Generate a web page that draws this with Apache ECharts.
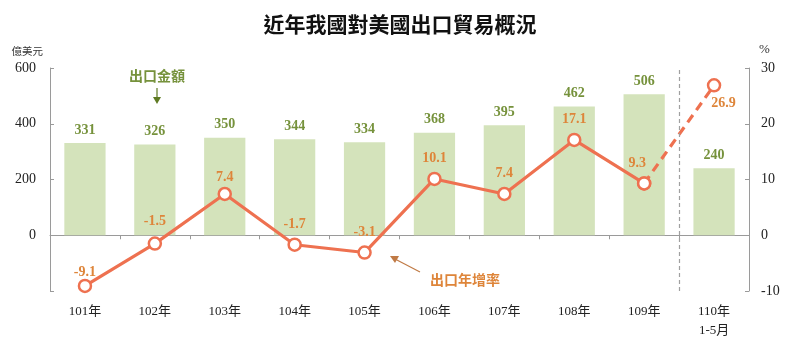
<!DOCTYPE html>
<html>
<head>
<meta charset="utf-8">
<script src="https://cdn.jsdelivr.net/npm/echarts@6/dist/echarts.min.js"></script>
<style>
  html, body { margin: 0; padding: 0; background: #fff; }
  #chart { width: 800px; height: 340px; }
</style>
</head>
<body>
<div id="chart"></div>
<script>
// Taiwan exports to the US: yearly export value (100M USD) and year-on-year growth (%)
const categories = ['101年', '102年', '103年', '104年', '105年', '106年', '107年', '108年', '109年', '110年\n1-5月'];
const exportValue = [331, 326, 350, 344, 334, 368, 395, 462, 506, 240];
const growthRate = [-9.1, -1.5, 7.4, -1.7, -3.1, 10.1, 7.4, 17.1, 9.3, 26.9];
const leftTicks = { min: -200, max: 600, interval: 200 };
const rightTicks = { min: -10, max: 30, interval: 10 };

const serif = '"Liberation Serif", "Noto Sans CJK TC", serif';
const cjk = '"Noto Sans CJK TC", sans-serif';
const axisGray = '#9a9a9a';
const barColor = '#d4e3bb';
const barLabelColor = '#76923c';
const lineColor = '#ee7150';
const lineLabelColor = '#de853a';

// Full-year growth is drawn solid; the partial-year segment is dashed
const last = growthRate.length - 1;
const solidGrowth = growthRate.map((v, i) => (i < last ? v : '-'));
const dashedGrowth = growthRate.map((v, i) => (i >= last - 1 ? v : '-'));

// small per-point nudges for the growth labels
const growthLabelDy = { 0: 7, 1: -2, 2: 4 };

const chart = echarts.init(document.getElementById('chart'));
chart.setOption({
  animation: false,
  title: {
    text: '近年我國對美國出口貿易概況',
    left: 'center',
    top: 9,
    textStyle: { fontFamily: cjk, fontSize: 21, fontWeight: 'bold', color: '#111' }
  },
  grid: { left: 50, right: 51, top: 68, bottom: 47 },
  xAxis: [
    {
      // zero baseline with boundary ticks
      type: 'category',
      data: categories,
      axisLine: { show: true, onZero: true, onZeroAxisIndex: 0, lineStyle: { color: axisGray } },
      axisTick: { show: true, length: 4, lineStyle: { color: axisGray } },
      axisLabel: { show: false }
    },
    {
      // category labels along the bottom
      type: 'category',
      data: categories,
      position: 'bottom',
      axisLine: { show: false, onZero: false },
      axisTick: { show: false },
      axisLabel: { fontFamily: serif, fontSize: 13, color: '#222', margin: 11, lineHeight: 19 }
    },
    { type: 'value', min: 0, max: 10, show: false }
  ],
  yAxis: [
    {
      type: 'value',
      name: '億美元',
      nameGap: 12,
      nameTextStyle: { fontFamily: cjk, fontSize: 10.5, color: '#333', align: 'right', padding: [0, 7, 0, 0] },
      min: leftTicks.min, max: leftTicks.max, interval: leftTicks.interval,
      axisLine: { show: true, lineStyle: { color: axisGray } },
      axisTick: { show: true, inside: true, length: 4, lineStyle: { color: axisGray } },
      axisLabel: {
        fontFamily: serif, fontSize: 14, color: '#222', margin: 14,
        formatter: v => (v < 0 ? '' : String(v))
      },
      splitLine: { show: false }
    },
    {
      type: 'value',
      name: '%',
      nameGap: 12,
      nameTextStyle: { fontFamily: serif, fontSize: 13, color: '#333', align: 'left', padding: [0, 0, 0, 10] },
      min: rightTicks.min, max: rightTicks.max, interval: rightTicks.interval,
      axisLine: { show: true, lineStyle: { color: axisGray } },
      axisTick: { show: true, inside: true, length: 4, lineStyle: { color: axisGray } },
      axisLabel: { fontFamily: serif, fontSize: 14, color: '#222', margin: 12 },
      splitLine: { show: false }
    }
  ],
  series: [
    {
      name: '出口金額',
      type: 'bar',
      data: exportValue,
      barWidth: '59%',
      itemStyle: { color: barColor },
      label: {
        show: true, position: 'top', distance: 6,
        fontFamily: serif, fontSize: 14, fontWeight: 'bold', color: barLabelColor
      },
      z: 1
    },
    {
      name: 'divider',
      type: 'line',
      xAxisIndex: 2,
      data: [],
      markLine: {
        silent: true, symbol: 'none', label: { show: false },
        lineStyle: { color: '#a0a0a0', type: [4, 3], width: 1.2 },
        data: [{ xAxis: 9 }]
      }
    },
    {
      name: '出口年增率',
      type: 'line',
      yAxisIndex: 1,
      data: solidGrowth,
      symbol: 'circle',
      symbolSize: 12,
      lineStyle: { color: lineColor, width: 3.2 },
      itemStyle: { color: '#fff', borderColor: lineColor, borderWidth: 2.5 },
      label: {
        show: true, position: 'top', distance: 6,
        fontFamily: serif, fontSize: 14, fontWeight: 'bold', color: lineLabelColor,
        formatter: p => p.value.toFixed(1)
      },
      labelLayout: p => {
        if (p.dataIndex === 8) return { dx: -7 };
        const dy = growthLabelDy[p.dataIndex];
        return dy ? { dy: dy } : {};
      },
      z: 5
    },
    {
      name: '出口年增率(1-5月)',
      type: 'line',
      yAxisIndex: 1,
      data: dashedGrowth,
      symbol: 'circle',
      symbolSize: 12,
      lineStyle: { color: lineColor, width: 3.2, type: [9, 6] },
      itemStyle: { color: '#fff', borderColor: lineColor, borderWidth: 2.5 },
      label: {
        show: true, position: 'right', distance: 2,
        fontFamily: serif, fontSize: 14, fontWeight: 'bold', color: lineLabelColor,
        formatter: p => (p.dataIndex === last ? p.value.toFixed(1) : ''),
        offset: [-12, 18]
      },
      z: 4
    }
  ],
  graphic: [
    {
      type: 'text', left: 129, top: 69,
      style: { text: '出口金額', font: 'bold 14px "Noto Sans CJK TC"', fill: barLabelColor }
    },
    {
      type: 'line', shape: { x1: 157, y1: 88, x2: 157, y2: 98 },
      style: { stroke: '#5e7a22', lineWidth: 1.2 }
    },
    {
      type: 'polygon', shape: { points: [[153, 97], [161, 97], [157, 104]] },
      style: { fill: '#5e7a22' }
    },
    {
      type: 'text', left: 430, top: 273,
      style: { text: '出口年增率', font: 'bold 14px "Noto Sans CJK TC"', fill: lineLabelColor }
    },
    {
      type: 'line', shape: { x1: 420, y1: 272, x2: 395, y2: 259 },
      style: { stroke: '#c07a45', lineWidth: 1.2 }
    },
    {
      type: 'polygon', shape: { points: [[390, 256], [399, 256], [395, 263]] },
      style: { fill: '#c07a45' }
    }
  ]
});
</script>
</body>
</html>
